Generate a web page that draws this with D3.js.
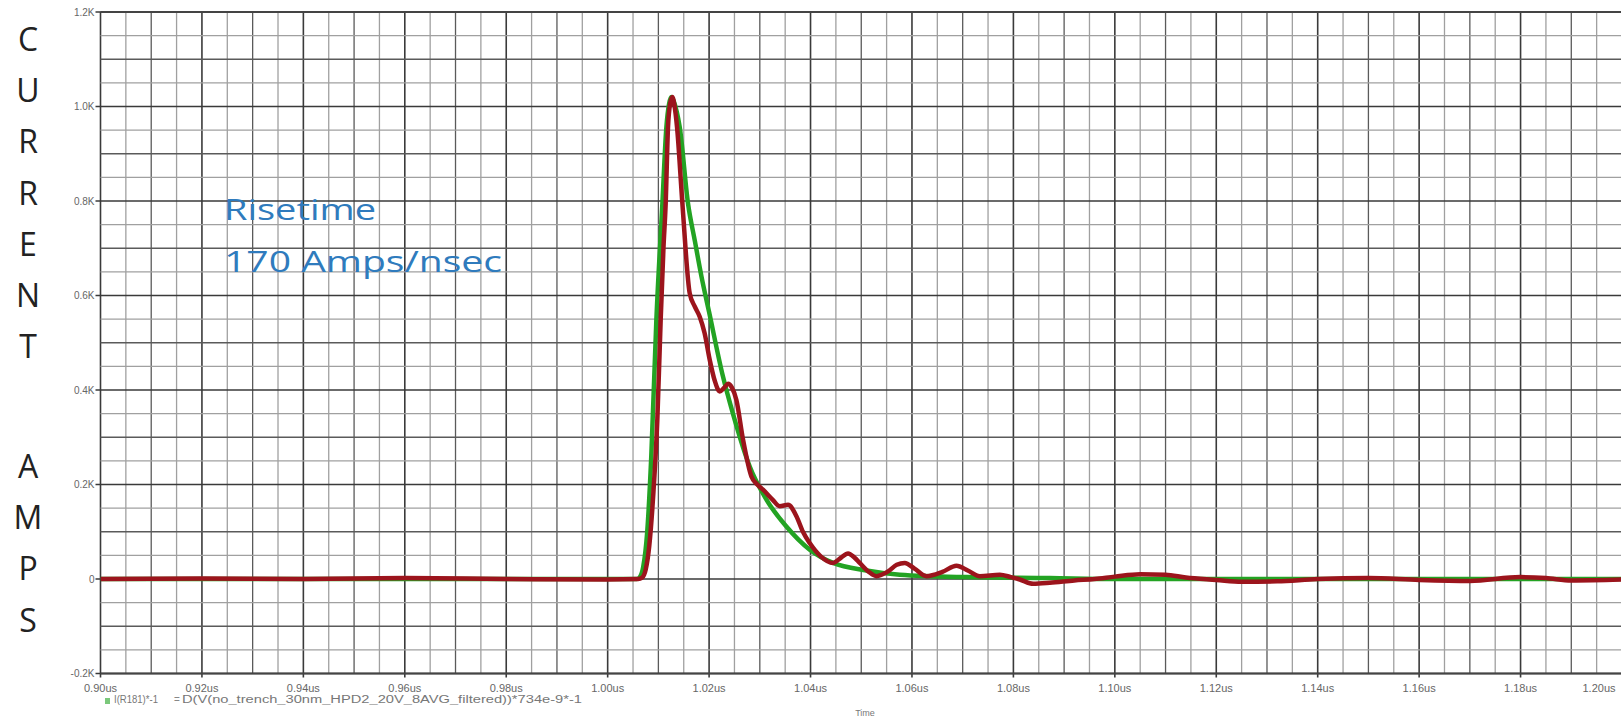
<!DOCTYPE html>
<html>
<head>
    <meta charset="utf-8">
    <script src="https://d3js.org/d3.v7.min.js"></script>
    <style>
        body { margin: 0; background: #fff; }
        svg { display: block; }
    </style>
</head>
<body>
    <svg id="plot" width="1621" height="718"></svg>
    <script>
        // tick labels
        const xTickVals = [0.90, 0.92, 0.94, 0.96, 0.98, 1.00, 1.02, 1.04, 1.06, 1.08, 1.10, 1.12, 1.14, 1.16, 1.18, 1.20];
        const xTickLabels = ["0.90us", "0.92us", "0.94us", "0.96us", "0.98us", "1.00us", "1.02us", "1.04us",
            "1.06us", "1.08us", "1.10us", "1.12us", "1.14us", "1.16us", "1.18us", "1.20us"];
        const yTickVals = [-200, 0, 200, 400, 600, 800, 1000, 1200];
        const yTickLabels = ["-0.2K", "0", "0.2K", "0.4K", "0.6K", "0.8K", "1.0K", "1.2K"];

        // I(R181)*-1  (green, simulated)
        const greenT = [0.900, 0.950, 1.000, 1.0058, 1.0064, 1.0070, 1.0078, 1.0086, 1.0096, 1.01079, 1.01158,
            1.0121, 1.01256, 1.0130, 1.0136, 1.0142, 1.01584, 1.0172, 1.0185, 1.0200, 1.0227, 1.0247,
            1.02801, 1.0313, 1.03524, 1.03984, 1.04444, 1.05103, 1.05759, 1.07075, 1.08718, 1.10, 1.15, 1.20];
        const greenV = [0, 0, 0, 0, 5, 25, 100, 260, 548, 795, 957,
            1005, 1020, 1012, 990, 957, 795, 715, 640, 565, 430, 350,
            238, 168, 111, 62, 34, 18, 9, 4, 2, 0, 0, 0];

        // D(V(...))*734e-9*-1  (red, measured)
        const redT = [0.900, 0.920, 0.940, 0.960, 0.980, 1.000, 1.0060, 1.0068, 1.0075, 1.0082, 1.0090, 1.0098,
            1.01045, 1.0110, 1.01144, 1.0119, 1.0123, 1.01276, 1.0132, 1.01367, 1.01473, 1.01617, 1.01716,
            1.01815, 1.01912, 1.02012, 1.0211, 1.02209, 1.0230, 1.02373, 1.0245, 1.02538, 1.02669, 1.02834,
            1.0295, 1.03063, 1.0325, 1.03393, 1.03557, 1.03722, 1.0385, 1.03984, 1.0420, 1.04444, 1.0460,
            1.0474, 1.0487, 1.0497, 1.0515, 1.0530, 1.05529, 1.0570, 1.05858, 1.0605, 1.06286, 1.0660,
            1.06878, 1.0710, 1.07337, 1.07732, 1.0795, 1.08126, 1.08389, 1.08718, 1.0920, 1.0960, 1.1000,
            1.1050, 1.1100, 1.1140, 1.1200, 1.1250, 1.1320, 1.1400, 1.1500, 1.1600, 1.1700, 1.1800, 1.1850,
            1.1900, 1.2000];
        const redV = [0, 1, 0, 2, 0, -1, 0, 3, 20, 70, 180, 340,
            548, 700, 795, 957, 1005, 1020, 1000, 957, 795, 605, 577,
            555, 520, 464, 420, 397, 405, 413, 405, 379, 295, 217,
            200, 189, 168, 154, 157, 133, 100, 76, 48, 34, 45,
            54, 45, 34, 15, 6, 16, 30, 34, 22, 6, 15,
            28, 18, 6, 9, 4, -1, -10, -8, -3, 0, 5,
            10, 9, 3, -2, -6, -5, 0, 2, -2, -4, 4, 2,
            -3, -1];

        const legendNames = ["I(R181)*-1", "D(V(no_trench_30nm_HPD2_20V_8AVG_filtered))*734e-9*-1"];
        const seriesColors = ["#23a323", "#9c141c"];

        const svg = d3.select("#plot");
        const W = 1621, H = 718;
        const plotL = 100.5, plotR = 1622, plotT = 12, plotB = 673.5;

        const x = d3.scaleLinear().domain([0.90, 1.20]).range([plotL, plotR]);
        const y = d3.scaleLinear().domain([-200, 1200]).range([plotB, plotT]);

        svg.append("defs").append("clipPath").attr("id", "clip")
            .append("rect")
            .attr("x", plotL).attr("y", plotT)
            .attr("width", plotR - plotL).attr("height", plotB - plotT);

        // grid: quarter, half, major
        const grid = svg.append("g");
        const xs = d3.range(0, 61).map(i => 0.90 + i * 0.005);
        const ys = d3.range(0, 29).map(i => -200 + i * 50);

        function gridStyle(i) {
            if (i % 4 === 0) return ["#3a3a3a", 1.6];
            if (i % 2 === 0) return ["#5a5a5a", 1.3];
            return ["#a0a0a0", 1.3];
        }

        xs.forEach((v, i) => {
            const [c, w] = gridStyle(i);
            grid.append("line")
                .attr("x1", x(v)).attr("x2", x(v))
                .attr("y1", plotT).attr("y2", plotB + (i % 4 === 0 ? 4 : 0))
                .attr("stroke", c).attr("stroke-width", w);
        });
        ys.forEach((v, i) => {
            const [c, w] = gridStyle(i);
            grid.append("line")
                .attr("x1", plotL - (i % 4 === 0 ? 5 : 0)).attr("x2", plotR)
                .attr("y1", y(v)).attr("y2", y(v))
                .attr("stroke", c).attr("stroke-width", w);
        });
        // frame
        grid.append("line").attr("x1", plotL).attr("x2", plotR).attr("y1", plotT).attr("y2", plotT)
            .attr("stroke", "#444").attr("stroke-width", 2);
        grid.append("line").attr("x1", plotL).attr("x2", plotR).attr("y1", plotB).attr("y2", plotB)
            .attr("stroke", "#444").attr("stroke-width", 2);

        // tick labels
        svg.append("g").selectAll("text")
            .data(yTickVals)
            .join("text")
            .attr("x", plotL - 6)
            .attr("y", d => y(d) + 3.5)
            .attr("text-anchor", "end")
            .attr("font-family", "Liberation Sans, Arial, sans-serif")
            .attr("font-size", 10)
            .attr("fill", "#666")
            .text((d, i) => yTickLabels[i]);

        svg.append("g").selectAll("text")
            .data(xTickVals)
            .join("text")
            .attr("x", d => Math.min(x(d), W - 22))
            .attr("y", plotB + 18)
            .attr("text-anchor", "middle")
            .attr("font-family", "Liberation Sans, Arial, sans-serif")
            .attr("font-size", 11)
            .attr("fill", "#666")
            .text((d, i) => xTickLabels[i]);

        svg.append("text")
            .attr("x", 865).attr("y", 716)
            .attr("text-anchor", "middle")
            .attr("font-family", "Liberation Sans, Arial, sans-serif")
            .attr("font-size", 9)
            .attr("fill", "#777")
            .text("Time");

        // legend
        const lg = svg.append("g").attr("transform", "translate(105,703)");
        lg.append("rect").attr("x", 0).attr("y", -5).attr("width", 5).attr("height", 6)
            .attr("fill", seriesColors[0]).attr("opacity", 0.6);
        lg.append("text").attr("x", 9).attr("y", 0)
            .attr("font-family", "Liberation Sans, Arial, sans-serif")
            .attr("font-size", 10).attr("fill", "#777")
            .attr("textLength", 44).attr("lengthAdjust", "spacingAndGlyphs")
            .text(legendNames[0]);
        lg.append("text").attr("x", 25 + 44).attr("y", 0)
            .attr("font-family", "Liberation Sans, Arial, sans-serif")
            .attr("font-size", 10).attr("fill", "#888")
            .text("=");
        lg.append("text").attr("x", 33 + 44).attr("y", 0)
            .attr("font-family", "Liberation Sans, Arial, sans-serif")
            .attr("font-size", 10).attr("fill", "#777")
            .attr("textLength", 400).attr("lengthAdjust", "spacingAndGlyphs")
            .text(legendNames[1]);

        // curves
        const line = d3.line()
            .x(d => x(d[0]))
            .y(d => y(d[1]))
            .curve(d3.curveMonotoneX);

        const curves = svg.append("g").attr("clip-path", "url(#clip)");
        curves.append("path")
            .datum(greenT.map((t, i) => [t, greenV[i]]))
            .attr("d", line)
            .attr("fill", "none")
            .attr("stroke", seriesColors[0])
            .attr("stroke-width", 4.5)
            .attr("stroke-linejoin", "round");
        curves.append("path")
            .datum(redT.map((t, i) => [t, redV[i]]))
            .attr("d", line)
            .attr("fill", "none")
            .attr("stroke", seriesColors[1])
            .attr("stroke-width", 4.5)
            .attr("stroke-linejoin", "round");

        // annotation
        const note = svg.append("g")
            .attr("font-family", "Open Sans, Noto Sans, sans-serif")
            .attr("fill", "#2f7bbd")
            .attr("font-size", 30);
        note.append("text").attr("x", 224).attr("y", 220)
            .attr("textLength", 152).attr("lengthAdjust", "spacingAndGlyphs")
            .text("Risetime");
        note.append("text").attr("x", 224).attr("y", 272)
            .attr("textLength", 278).attr("lengthAdjust", "spacingAndGlyphs")
            .text("170 Amps/nsec");

        // vertical axis title
        const words = ["CURRENT", "AMPS"];
        const wordTop = [51, 478];
        const side = svg.append("g")
            .attr("font-family", "Open Sans, Noto Sans, sans-serif")
            .attr("font-size", 32)
            .attr("fill", "#222")
            .attr("text-anchor", "middle");
        words.forEach((w, wi) => {
            w.split("").forEach((ch, i) => {
                side.append("text")
                    .attr("x", 28)
                    .attr("y", wordTop[wi] + i * 51.2)
                    .text(ch);
            });
        });
    </script>
</body>
</html>
